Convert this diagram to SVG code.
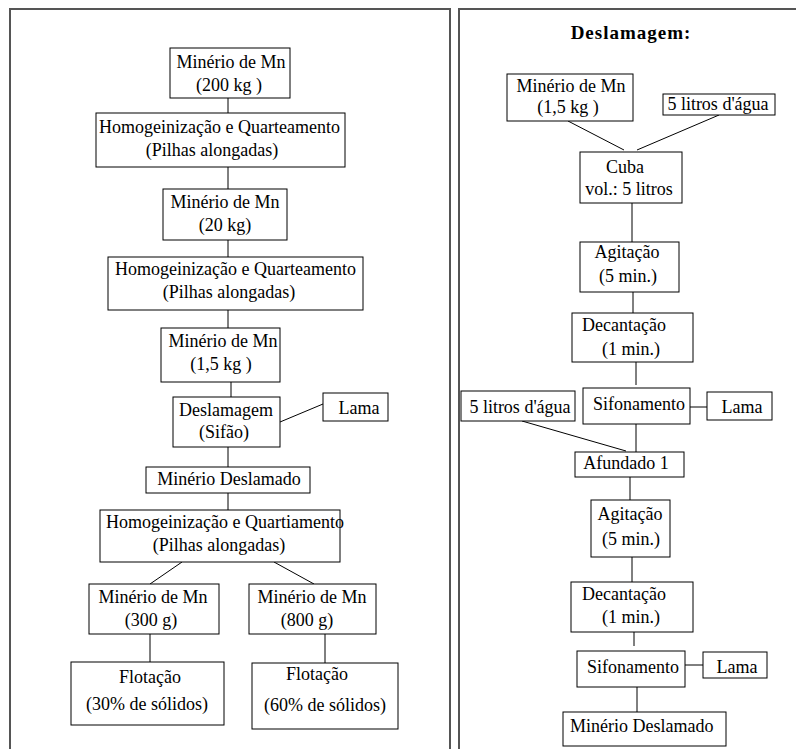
<svg xmlns="http://www.w3.org/2000/svg" width="796" height="749" viewBox="0 0 796 749">
<style>
.box{fill:#fff;stroke:#000;stroke-width:1}
.frame{fill:none;stroke:#555;stroke-width:2}
.c{stroke:#000;stroke-width:1;fill:none}
text{font-family:"Liberation Serif","Times New Roman",serif;font-size:18px;fill:#000}
.m{text-anchor:middle}
.title{font-size:19px;font-weight:bold;letter-spacing:1px}
</style>
<rect width="796" height="749" fill="#fff"/>
<g id="frames">
<path class="frame" d="M10,749 V9 H450 V749"/>
<path class="frame" d="M459,749 V9 H796"/>
</g>
<g id="connectors">
<line class="c" x1="228" y1="98" x2="228" y2="113"/>
<line class="c" x1="228" y1="167" x2="228" y2="189"/>
<line class="c" x1="228" y1="240" x2="228" y2="257"/>
<line class="c" x1="228" y1="310" x2="228" y2="328"/>
<line class="c" x1="231" y1="382" x2="231" y2="397"/>
<line class="c" x1="280" y1="422" x2="323" y2="404"/>
<line class="c" x1="228" y1="447" x2="228" y2="467"/>
<line class="c" x1="228" y1="493" x2="228" y2="510"/>
<line class="c" x1="182" y1="562" x2="150" y2="584"/>
<line class="c" x1="274" y1="562" x2="314" y2="584"/>
<line class="c" x1="150" y1="634" x2="150" y2="662"/>
<line class="c" x1="325" y1="634" x2="325" y2="663"/>
<line class="c" x1="568" y1="121" x2="624" y2="150"/>
<line class="c" x1="719" y1="115" x2="637" y2="150"/>
<line class="c" x1="632" y1="203" x2="632" y2="242"/>
<line class="c" x1="633" y1="292" x2="633" y2="313"/>
<line class="c" x1="636" y1="362" x2="636" y2="385"/>
<line class="c" x1="690" y1="407" x2="707" y2="407"/>
<line class="c" x1="522" y1="421" x2="626" y2="451"/>
<line class="c" x1="636" y1="424" x2="636" y2="452"/>
<line class="c" x1="630" y1="477" x2="630" y2="500"/>
<line class="c" x1="632" y1="557" x2="632" y2="582"/>
<line class="c" x1="634" y1="632" x2="634" y2="646"/>
<line class="c" x1="685" y1="665" x2="703" y2="665"/>
<line class="c" x1="637" y1="687" x2="637" y2="712"/>
</g>
<g id="n1"><rect class="box" x="170" y="48" width="120" height="50"/><text class="m" x="231" y="68">Minério de Mn</text><text class="m" x="229" y="91">(200 kg )</text></g>
<g id="n2"><rect class="box" x="96" y="113" width="249" height="54"/><text x="99" y="133">Homogeinização e Quarteamento</text><text class="m" x="212" y="156">(Pilhas alongadas)</text></g>
<g id="n3"><rect class="box" x="163" y="189" width="124" height="51"/><text class="m" x="225" y="208">Minério de Mn</text><text class="m" x="225" y="231">(20 kg)</text></g>
<g id="n4"><rect class="box" x="108" y="257" width="255" height="53"/><text x="115" y="275">Homogeinização e Quarteamento</text><text class="m" x="229" y="298">(Pilhas alongadas)</text></g>
<g id="n5"><rect class="box" x="161" y="328" width="119" height="54"/><text class="m" x="223" y="347">Minério de Mn</text><text class="m" x="221" y="370">(1,5 kg )</text></g>
<g id="n6"><rect class="box" x="173" y="397" width="107" height="50"/><text class="m" x="226" y="416">Deslamagem</text><text class="m" x="224" y="438">(Sifão)</text></g>
<g id="n7"><rect class="box" x="323" y="393" width="65" height="28"/><text class="m" x="359" y="414">Lama</text></g>
<g id="n8"><rect class="box" x="146" y="467" width="164" height="26"/><text class="m" x="229" y="485">Minério Deslamado</text></g>
<g id="n9"><rect class="box" x="100" y="510" width="240" height="52"/><text x="106" y="528">Homogeinização e Quartiamento</text><text class="m" x="219" y="551">(Pilhas alongadas)</text></g>
<g id="n10"><rect class="box" x="89" y="584" width="130" height="50"/><text class="m" x="153" y="603">Minério de Mn</text><text class="m" x="151" y="626">(300 g)</text></g>
<g id="n11"><rect class="box" x="249" y="584" width="127" height="50"/><text class="m" x="312" y="603">Minério de Mn</text><text class="m" x="307" y="626">(800 g)</text></g>
<g id="n12"><rect class="box" x="71" y="662" width="153" height="63"/><text class="m" x="150" y="683">Flotação</text><text class="m" x="147" y="710">(30% de sólidos)</text></g>
<g id="n13"><rect class="box" x="252" y="663" width="146" height="66"/><text class="m" x="317" y="680">Flotação</text><text class="m" x="325" y="711">(60% de sólidos)</text></g>
<g id="title"><text class="m title" x="631" y="39">Deslamagem:</text></g>
<g id="r1"><rect class="box" x="507" y="74" width="126" height="47"/><text class="m" x="571" y="92">Minério de Mn</text><text class="m" x="568" y="113">(1,5 kg )</text></g>
<g id="r2"><rect class="box" x="663" y="94" width="112" height="21"/><text class="m" x="718" y="110">5 litros d'água</text></g>
<g id="r3"><rect class="box" x="580" y="152" width="102" height="51"/><text class="m" x="625" y="173">Cuba</text><text class="m" x="629" y="195">vol.: 5 litros</text></g>
<g id="r4"><rect class="box" x="580" y="242" width="99" height="50"/><text class="m" x="627" y="258">Agitação</text><text class="m" x="628" y="282">(5 min.)</text></g>
<g id="r5"><rect class="box" x="572" y="313" width="121" height="49"/><text x="582" y="331">Decantação</text><text x="602" y="355">(1 min.)</text></g>
<g id="r6"><rect class="box" x="583" y="388" width="107" height="36"/><text x="593" y="410">Sifonamento</text></g>
<g id="r7"><rect class="box" x="707" y="392" width="65" height="28"/><text class="m" x="742" y="413">Lama</text></g>
<g id="r8"><rect class="box" x="461" y="391" width="114" height="30"/><text class="m" x="520" y="413">5 litros d'água</text></g>
<g id="r9"><rect class="box" x="575" y="452" width="109" height="25"/><text class="m" x="626" y="469">Afundado 1</text></g>
<g id="r10"><rect class="box" x="591" y="500" width="79" height="57"/><text class="m" x="630" y="520">Agitação</text><text class="m" x="631" y="545">(5 min.)</text></g>
<g id="r11"><rect class="box" x="571" y="582" width="122" height="50"/><text x="582" y="600">Decantação</text><text x="602" y="623">(1 min.)</text></g>
<g id="r12"><rect class="box" x="577" y="651" width="108" height="36"/><text x="587" y="673">Sifonamento</text></g>
<g id="r13"><rect class="box" x="703" y="652" width="64" height="26"/><text class="m" x="737" y="673">Lama</text></g>
<g id="r14"><rect class="box" x="563" y="712" width="163" height="34"/><text x="570" y="732">Minério Deslamado</text></g>
</svg>
